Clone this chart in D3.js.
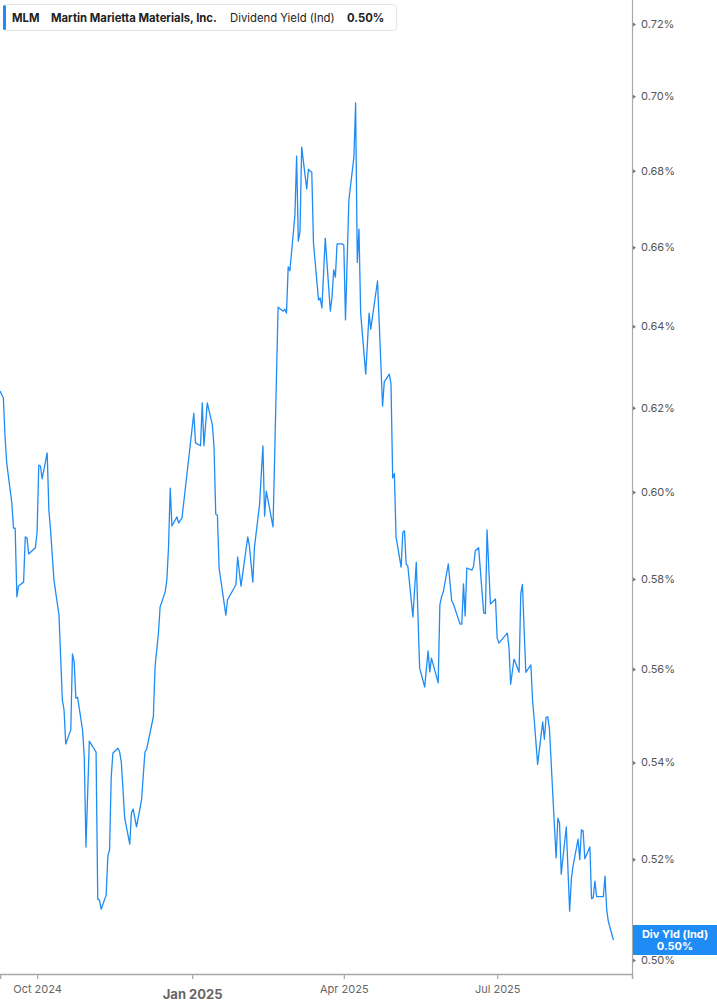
<!DOCTYPE html>
<html>
<head>
<meta charset="utf-8">
<script src="https://cdn.jsdelivr.net/npm/d3@7"></script>
<style>
  html, body { margin: 0; padding: 0; background: #fff; }
  svg { display: block; font-family: Inter, "Noto Sans", sans-serif; }
</style>
</head>
<body>
<svg id="chart" width="717" height="1005"></svg>
<script>
// ── MLM dividend yield (Ind), % ──
const dates = [
  '2024-09-09','2024-09-11','2024-09-12','2024-09-13','2024-09-16','2024-09-17','2024-09-18','2024-09-19','2024-09-20','2024-09-23',
  '2024-09-24','2024-09-25','2024-09-26','2024-09-30','2024-10-01','2024-10-02','2024-10-03','2024-10-04','2024-10-07','2024-10-08',
  '2024-10-09','2024-10-11','2024-10-14','2024-10-16','2024-10-17','2024-10-18','2024-10-21','2024-10-22','2024-10-23','2024-10-24',
  '2024-10-25','2024-10-28','2024-10-29','2024-10-30','2024-11-01','2024-11-05','2024-11-06','2024-11-07','2024-11-08','2024-11-11',
  '2024-11-12','2024-11-13','2024-11-14','2024-11-15','2024-11-18','2024-11-19','2024-11-20','2024-11-22','2024-11-25','2024-11-26',
  '2024-11-27','2024-11-29','2024-12-02','2024-12-04','2024-12-05','2024-12-09','2024-12-10','2024-12-12','2024-12-13','2024-12-16',
  '2024-12-17','2024-12-18','2024-12-19','2024-12-20','2024-12-23','2024-12-24','2024-12-26','2025-01-02','2025-01-03','2025-01-06',
  '2025-01-07','2025-01-08','2025-01-10','2025-01-13','2025-01-14','2025-01-15','2025-01-16','2025-01-17','2025-01-21','2025-01-22',
  '2025-01-23','2025-01-27','2025-01-28','2025-01-30','2025-02-03','2025-02-04','2025-02-06','2025-02-07','2025-02-10','2025-02-12',
  '2025-02-13','2025-02-14','2025-02-18','2025-02-21','2025-02-24','2025-02-25','2025-02-26','2025-02-27','2025-02-28','2025-03-03',
  '2025-03-04','2025-03-05','2025-03-06','2025-03-07','2025-03-10','2025-03-11','2025-03-12','2025-03-13','2025-03-14','2025-03-17',
  '2025-03-18','2025-03-19','2025-03-21','2025-03-24','2025-03-25','2025-03-26','2025-03-27','2025-03-28','2025-03-31','2025-04-01',
  '2025-04-02','2025-04-04','2025-04-07','2025-04-08','2025-04-09','2025-04-10','2025-04-11','2025-04-14','2025-04-16','2025-04-17',
  '2025-04-21','2025-04-24','2025-04-25','2025-04-28','2025-04-29','2025-04-30','2025-05-01','2025-05-02','2025-05-05','2025-05-06',
  '2025-05-07','2025-05-08','2025-05-09','2025-05-12','2025-05-14','2025-05-16','2025-05-19','2025-05-21','2025-05-22','2025-05-23',
  '2025-05-27','2025-05-28','2025-05-29','2025-05-30','2025-06-02','2025-06-04','2025-06-05','2025-06-09','2025-06-10','2025-06-11',
  '2025-06-12','2025-06-13','2025-06-16','2025-06-17','2025-06-18','2025-06-20','2025-06-23','2025-06-24','2025-06-25','2025-06-27',
  '2025-06-30','2025-07-01','2025-07-02','2025-07-07','2025-07-08','2025-07-09','2025-07-11','2025-07-14','2025-07-15','2025-07-16',
  '2025-07-17','2025-07-18','2025-07-21','2025-07-22','2025-07-23','2025-07-25','2025-07-28','2025-07-29','2025-07-30','2025-07-31',
  '2025-08-01','2025-08-04','2025-08-05','2025-08-06','2025-08-07','2025-08-08','2025-08-11','2025-08-13','2025-08-14','2025-08-15',
  '2025-08-18','2025-08-19','2025-08-20','2025-08-21','2025-08-22','2025-08-25','2025-08-26','2025-08-27','2025-08-28','2025-08-29',
  '2025-09-02','2025-09-03','2025-09-04','2025-09-05','2025-09-08'
];

const yieldPct = [
  0.6241,0.6224,0.6130,0.6068,0.5975,0.5916,0.5916,0.5760,0.5784,0.5793,
  0.5896,0.5894,0.5857,0.5871,0.5906,0.6063,0.6061,0.6031,0.6092,0.5958,
  0.5912,0.5798,0.5719,0.5533,0.5512,0.5439,0.5469,0.5633,0.5616,0.5537,
  0.5539,0.5469,0.5411,0.5225,0.5445,0.5422,0.5120,0.5118,0.5100,0.5128,
  0.5207,0.5219,0.5370,0.5420,0.5430,0.5422,0.5400,0.5284,0.5231,0.5295,
  0.5303,0.5266,0.5322,0.5422,0.5428,0.5497,0.5605,0.5679,0.5737,0.5771,
  0.5798,0.5873,0.6009,0.5921,0.5942,0.5928,0.5940,0.6187,0.6116,0.6109,
  0.6212,0.6109,0.6212,0.6159,0.6106,0.5949,0.5946,0.5825,0.5719,0.5753,
  0.5760,0.5787,0.5850,0.5784,0.5896,0.5875,0.5793,0.5873,0.5970,0.6109,
  0.5944,0.6002,0.5919,0.6448,0.6438,0.6443,0.6433,0.6550,0.6540,0.6684,
  0.6839,0.6616,0.6640,0.6863,0.6752,0.6804,0.6799,0.6796,0.6611,0.6466,
  0.6471,0.6446,0.6624,0.6438,0.6473,0.6542,0.6524,0.6609,0.6609,0.6606,
  0.6416,0.6723,0.6836,0.6982,0.6561,0.6647,0.6433,0.6282,0.6433,0.6393,
  0.6514,0.6204,0.6263,0.6282,0.6258,0.6033,0.6043,0.5896,0.5827,0.5906,
  0.5910,0.5834,0.5829,0.5715,0.5838,0.5602,0.5561,0.5640,0.5594,0.5624,
  0.5570,0.5742,0.5760,0.5771,0.5834,0.5751,0.5744,0.5699,0.5699,0.5789,
  0.5717,0.5825,0.5820,0.5829,0.5864,0.5871,0.5724,0.5722,0.5912,0.5744,
  0.5755,0.5668,0.5657,0.5679,0.5648,0.5567,0.5622,0.5593,0.5767,0.5788,
  0.5686,0.5593,0.5609,0.5533,0.5490,0.5396,0.5486,0.5449,0.5495,0.5497,
  0.5472,0.5266,0.5203,0.5284,0.5274,0.5170,0.5266,0.5096,0.5160,0.5186,
  0.5241,0.5199,0.5260,0.5258,0.5201,0.5225,0.5121,0.5123,0.5156,0.5125,
  0.5125,0.5166,0.5098,0.5075,0.5039
];

const yTicks = [0.50, 0.52, 0.54, 0.56, 0.58, 0.60, 0.62, 0.64, 0.66, 0.68, 0.70, 0.72];
const xTicks = ['2024-10-01', '2025-01-01', '2025-04-01', '2025-07-01'];
const header = { ticker: 'MLM', name: 'Martin Marietta Materials, Inc.', metric: 'Dividend Yield (Ind)', last: '0.50%' };
const endLabel = ['Div Yld (Ind)', '0.50%'];

// ── Layout ──
const W = 717, H = 1005;
const plotR = 632, plotB = 974;
const BLUE = '#1f8cf5';
const parse = d3.timeParse('%Y-%m-%d');

const data = dates.map((d, i) => ({ date: parse(d), v: yieldPct[i] }));

const x = d3.scaleTime()
  .domain([parse('2024-09-09'), parse('2025-09-19')])
  .range([0, plotR]);

// log scale — tick spacing widens toward the bottom
const y = d3.scaleLog()
  .domain([0.50, 0.72])
  .range([960, 24]);

const svg = d3.select('#chart');

// Line
svg.append('path').datum(data)
  .attr('fill', 'none')
  .attr('stroke', BLUE)
  .attr('stroke-width', 1.3)
  .attr('stroke-linejoin', 'round')
  .attr('d', d3.line().x(d => x(d.date)).y(d => y(d.v)));

// Right axis
svg.append('line')
  .attr('x1', plotR + 0.5).attr('x2', plotR + 0.5)
  .attr('y1', 0).attr('y2', plotB)
  .attr('stroke', '#a8a8a8').attr('stroke-width', 1.2);

const yAxis = svg.append('g')
  .attr('transform', `translate(${plotR},0)`)
  .call(d3.axisRight(y).tickValues(yTicks).tickSize(0).tickPadding(9)
    .tickFormat(d => d.toFixed(2) + '%'));
yAxis.select('.domain').remove();
yAxis.selectAll('text')
  .attr('fill', '#555').attr('font-size', '11px')
  .attr('font-family', 'Inter, "Noto Sans", sans-serif');
yAxis.selectAll('.tick').append('path')
  .attr('d', 'M1,-2L4,0L1,2Z').attr('fill', '#777');

// Bottom axis
const xAxis = svg.append('g')
  .attr('transform', `translate(0,${plotB})`)
  .call(d3.axisBottom(x).tickValues(xTicks.map(parse)).tickSize(5).tickPadding(6)
    .tickFormat(d3.timeFormat('%b %Y')));
xAxis.select('.domain').attr('stroke', '#a8a8a8').attr('stroke-width', 1.5);
xAxis.selectAll('.tick line').attr('stroke', '#a8a8a8').attr('stroke-width', 1.2);
xAxis.selectAll('text')
  .attr('fill', '#666').attr('font-size', '11px')
  .attr('font-family', 'Inter, "Noto Sans", sans-serif');
xAxis.selectAll('text').filter(d => d.getMonth() === 0)
  .attr('font-size', '13px').attr('font-weight', 'bold').attr('dy', '1.05em');

// End-of-line label
const lbl = svg.append('g').attr('transform', `translate(${plotR + 1},925)`);
lbl.append('rect').attr('width', W - plotR - 1).attr('height', 30).attr('fill', BLUE);
lbl.selectAll('text').data(endLabel).join('text')
  .attr('x', (W - plotR - 1) / 2).attr('y', (d, i) => 13 + i * 12)
  .attr('text-anchor', 'middle').attr('fill', '#fff')
  .attr('font-size', '11px').attr('font-weight', 'bold')
  .text(d => d);

// Header legend
const hd = svg.append('g');
hd.append('rect').attr('x', 3.5).attr('y', 4.5).attr('width', 393).attr('height', 26)
  .attr('rx', 3).attr('fill', '#fff').attr('stroke', '#e4e4e4');
hd.append('rect').attr('x', 3).attr('y', 5).attr('width', 3).attr('height', 25)
  .attr('rx', 1.5).attr('fill', BLUE);
const hText = [
  { t: header.ticker, x: 12, b: true },
  { t: header.name, x: 51, b: true },
  { t: header.metric, x: 230, b: false },
  { t: header.last, x: 347, b: true }
];
hd.selectAll('text.h').data(hText).join('text')
  .attr('class', 'h')
  .attr('x', d => d.x).attr('y', 22)
  .attr('fill', '#222').attr('font-size', '11.3px')
  .attr('font-weight', d => d.b ? 'bold' : 'normal')
  .text(d => d.t);
</script>
</body>
</html>
